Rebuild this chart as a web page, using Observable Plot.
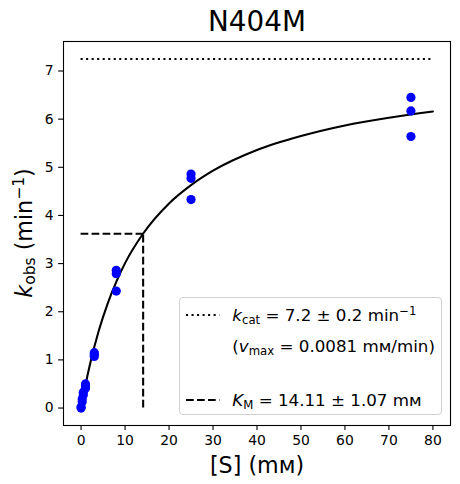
<!DOCTYPE html>
<html>
<head>
<meta charset="utf-8">
<script src="https://cdn.jsdelivr.net/npm/d3@7"></script>
<script src="https://cdn.jsdelivr.net/npm/@observablehq/plot@0.6"></script>
<style>
  body { margin: 0; background: #fff; }
  #c { position: relative; width: 460px; height: 484px; font-family: "DejaVu Sans"; color: #000; }
  .ylab { position: absolute; left: 25px; top: 233px; transform: translate(-50%, -50%) rotate(-90deg);
          font-size: 22.2px; white-space: nowrap; line-height: 26px; }
  .legend { position: absolute; left: 179.3px; top: 296.7px; width: 262.4px; height: 118px;
            border: 1px solid #d0d0d0; border-radius: 4px; background: rgba(255,255,255,0.8); box-sizing: border-box; }
  .row { position: absolute; left: 52px; font-size: 16.7px; line-height: 20px; white-space: nowrap; }
  .h { position: absolute; left: 6px; }
  i { font-style: italic; }
  .sub { font-size: 0.7em; position: relative; top: 0.22em; }
  .sup { font-size: 0.7em; position: relative; top: -0.5em; }
</style>
</head>
<body>
<div id="c"></div>
<script>
// Measured data: substrate concentration (mM) and observed rate (min^-1)
const substrate = [0, 0, 0.25, 0.25, 0.5, 0.5, 1, 1, 1, 3, 3, 3, 8, 8, 8, 25, 25, 25, 75, 75, 75];
const kobs      = [0.0, 0.02, 0.13, 0.19, 0.27, 0.33, 0.41, 0.46, 0.50, 1.07, 1.11, 1.15,
                   2.43, 2.79, 2.86, 4.33, 4.77, 4.86, 5.64, 6.17, 6.45];

// Fitted curve
const curveS = [0, 1, 2, 4, 6, 8, 10, 14, 20, 25, 30, 40, 50, 60, 70, 80];
const curveK = [0, 0.48, 0.90, 1.60, 2.16, 2.62, 3.01, 3.61, 4.25, 4.63, 4.93, 5.36, 5.65, 5.87, 6.03, 6.16];

// Fit parameters
const kcatLine = 7.25;
const KM = 14.11;
const halfKcat = 3.62;
const xStart = 0, xEnd = 80;

const xTicks = [0, 10, 20, 30, 40, 50, 60, 70, 80];
const yTicks = [0, 1, 2, 3, 4, 5, 6, 7];

const points = substrate.map((s, i) => ({s, k: kobs[i]}));
const curve = curveS.map((s, i) => ({s, k: curveK[i]}));

const chart = Plot.plot({
  width: 460,
  height: 484,
  marginTop: 41,
  marginRight: 10,
  marginBottom: 59,
  marginLeft: 63,
  style: {fontFamily: "DejaVu Sans", fontSize: "13.9px", background: "white", color: "black"},
  x: {domain: [-4, 84]},
  y: {domain: [-0.3625, 7.6125]},
  marks: [
    Plot.ruleY([kcatLine], {x1: xStart, x2: xEnd, stroke: "black", strokeWidth: 2.08, strokeDasharray: "2.08,3.44"}),
    Plot.line(curve, {x: "s", y: "k", stroke: "black", strokeWidth: 2.08, curve: "monotone-x"}),
    Plot.ruleX([KM], {y1: 0, y2: halfKcat, stroke: "black", strokeWidth: 2.08, strokeDasharray: "7.7,3.3"}),
    Plot.ruleY([halfKcat], {x1: 0, x2: KM, stroke: "black", strokeWidth: 2.08, strokeDasharray: "7.7,3.3"}),
    Plot.dot(points, {x: "s", y: "k", r: 4.6, fill: "#0000ff", stroke: "none"}),
    Plot.frame({stroke: "black", strokeWidth: 1.1}),
    Plot.axisX({ticks: xTicks, tickSize: 4.9, tickPadding: 4.9, strokeWidth: 1.1, label: null, tickFormat: d => String(d)}),
    Plot.axisY({ticks: yTicks, tickSize: 4.9, tickPadding: 4.9, strokeWidth: 1.1, label: null, tickFormat: d => String(d)}),
    Plot.text(["N404M"], {frameAnchor: "top", dy: -19, fontSize: 27.8, lineAnchor: "middle"}),
    Plot.text(["[S] (m\u1D0D)"], {frameAnchor: "bottom", dy: 40, fontSize: 22.2, lineAnchor: "middle"})
  ]
});

const c = document.getElementById("c");
c.appendChild(chart);

const ylab = document.createElement("div");
ylab.className = "ylab";
ylab.innerHTML = '<i>k</i><span class="sub">obs</span> (min<span class="sup">\u22121</span>)';
c.appendChild(ylab);

const legend = document.createElement("div");
legend.className = "legend";
legend.innerHTML = `
  <svg class="h" width="34" height="6" style="top:14.6px"><line x1="0" x2="33.4" y1="3" y2="3" stroke="black" stroke-width="2.08" stroke-dasharray="2.08,3.44"/></svg>
  <div class="row" style="top:7.6px"><i>k</i><span class="sub">cat</span> = 7.2 \u00B1 0.2 min<span class="sup">\u22121</span></div>
  <div class="row" style="top:38.5px">(<i>v</i><span class="sub">max</span> = 0.0081 m\u1D0D/min)</div>
  <svg class="h" width="34" height="6" style="top:99.8px"><line x1="0" x2="33.4" y1="3" y2="3" stroke="black" stroke-width="2.08" stroke-dasharray="7.7,3.3"/></svg>
  <div class="row" style="top:92.8px"><i>K</i><span class="sub">M</span> = 14.11 \u00B1 1.07 m\u1D0D</div>
`;
c.appendChild(legend);
</script>
</body>
</html>
